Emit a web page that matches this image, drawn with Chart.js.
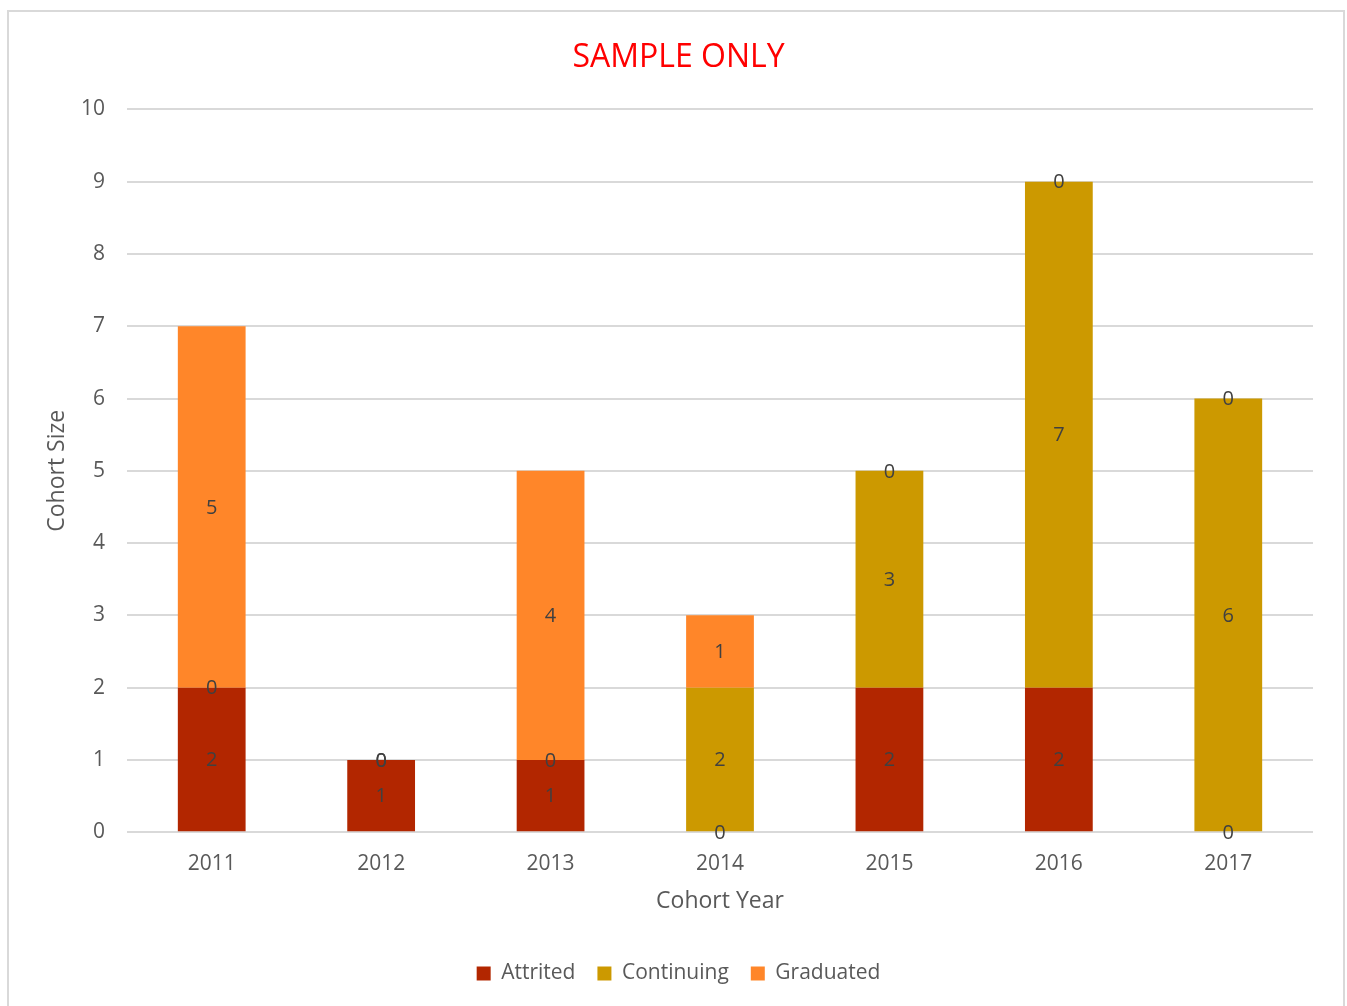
<!DOCTYPE html>
<html>
<head>
    <meta charset="UTF-8">
    <title>Cohort Size</title>
    <script src="https://cdn.jsdelivr.net/npm/chart.js"></script>
    <style>
        html, body { margin: 0; padding: 0; background: #fff; }
        #frame {
            position: absolute; left: 7px; top: 10px;
            width: 1334px; height: 1010px;
            border: 2px solid #d9d9d9;
        }
        #wrap { position: absolute; left: 0; top: 0; width: 1347px; height: 1006px; }
    </style>
</head>
<body>
    <div id="frame"></div>
    <div id="wrap"><canvas id="chart"></canvas></div>
    <script>
        // 数据
        const years = ['2011', '2012', '2013', '2014', '2015', '2016', '2017'];
        const attrited = [2, 1, 1, 0, 2, 2, 0];
        const continuing = [0, 0, 0, 2, 3, 7, 6];
        const graduated = [5, 0, 4, 1, 0, 0, 0];

        const fontFamily = '"Open Sans", "Noto Sans", sans-serif';
        const textColor = '#595959';

        // 段内数值标签
        const segmentLabels = {
            id: 'segmentLabels',
            afterDatasetsDraw(chart) {
                const ctx = chart.ctx;
                ctx.save();
                ctx.font = '20px ' + fontFamily;
                ctx.fillStyle = '#404040';
                ctx.textAlign = 'center';
                ctx.textBaseline = 'middle';
                chart.data.datasets.forEach((ds, i) => {
                    const meta = chart.getDatasetMeta(i);
                    meta.data.forEach((bar, j) => {
                        const p = bar.getProps(['x', 'y', 'base'], true);
                        ctx.fillText(String(ds.data[j]), p.x, (p.y + p.base) / 2 + 1);
                    });
                });
                ctx.restore();
            }
        };

        const ctx = document.getElementById('chart').getContext('2d');
        const chart = new Chart(ctx, {
            type: 'bar',
            data: {
                labels: years,
                datasets: [
                    { label: 'Attrited', data: attrited, backgroundColor: '#B22600' },
                    { label: 'Continuing', data: continuing, backgroundColor: '#CC9900' },
                    { label: 'Graduated', data: graduated, backgroundColor: '#FF8629' }
                ]
            },
            options: {
                responsive: true,
                maintainAspectRatio: false,
                animation: false,
                categoryPercentage: 1,
                barPercentage: 0.4,
                layout: { padding: { left: 44, right: 34, top: 39, bottom: 12 } },
                plugins: {
                    title: {
                        display: true,
                        text: 'SAMPLE ONLY',
                        color: '#FF0000',
                        font: { family: fontFamily, size: 32, weight: 'normal' },
                        padding: { top: 0, bottom: 32 }
                    },
                    legend: {
                        position: 'bottom',
                        labels: {
                            color: textColor,
                            font: { family: fontFamily, size: 21 },
                            boxWidth: 14,
                            boxHeight: 14,
                            padding: 22
                        }
                    },
                    tooltip: { enabled: false }
                },
                scales: {
                    x: {
                        stacked: true,
                        grid: { display: false },
                        border: { display: false },
                        ticks: { color: textColor, font: { family: fontFamily, size: 21 }, padding: 11 },
                        title: {
                            display: true,
                            text: 'Cohort Year',
                            color: textColor,
                            font: { family: fontFamily, size: 23 },
                            padding: { top: 0, bottom: 26 }
                        }
                    },
                    y: {
                        stacked: true,
                        min: 0,
                        max: 10,
                        afterFit(scale) { scale.width = 83; },
                        ticks: { stepSize: 1, color: textColor, font: { family: fontFamily, size: 21 }, padding: 22 },
                        grid: { color: '#d9d9d9', lineWidth: 2, drawTicks: false },
                        border: { display: false },
                        title: {
                            display: true,
                            text: 'Cohort Size',
                            color: textColor,
                            font: { family: fontFamily, size: 23 },
                            padding: { top: 0, bottom: 0 }
                        }
                    }
                }
            },
            plugins: [segmentLabels]
        });
    </script>
</body>
</html>
